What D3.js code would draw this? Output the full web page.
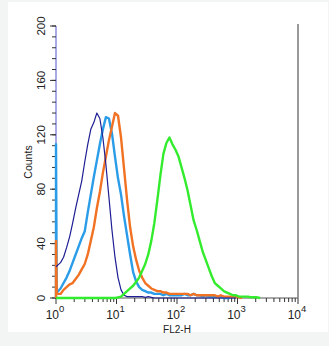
<!DOCTYPE html>
<html>
<head>
<meta charset="utf-8">
<script src="https://cdn.jsdelivr.net/npm/d3@7"></script>
<style>
  html, body { margin: 0; padding: 0; background: #f3f4f4; }
  svg { display: block; }
</style>
</head>
<body>
<svg id="chart" width="329" height="346"></svg>
<script>
// FL2-H histograms, counts per channel (channel width = 0.05 decade)
const xTickValues = [1, 10, 100, 1000, 10000];
const xTickExponents = ["0", "1", "2", "3", "4"];
const yTickValues = [0, 40, 80, 120, 160, 200];
const seriesNames = ["isotype", "control", "blank", "stained"];
const seriesColors = ["#1e1e94", "#2b9de8", "#f27224", "#33ec2e"];
const seriesWidths = [1.2, 2.4, 2.4, 2.4];
// events piled up in the first channel (drawn as a spike on the axis)
const pileup = [null, 113, 42, 0];

const isotypeCounts = [23, 26, 30, 37, 45, 55, 66, 76, 86, 100,
  113, 124, 129, 136, 132, 118, 98, 74, 50, 30,
  15, 6, 2, 1, 1, 1, 1, 1, 1, 0.5,
  1, 0.5, 0, 0, 0, 0, 0, 0, 0, 0,
  0, 0, 0, 0, 0, 0, 0, 0, 0, 0,
  0, 0, 0, 0, 0, 0, 0, 0, 0, 0];
const controlCounts = [4, 7, 11, 15, 20, 26, 32, 38, 44, 49,
  63, 76, 89, 101, 113, 124, 133, 132, 121, 104,
  88, 76, 60, 46, 32, 19, 12, 8, 6, 5,
  4, 4, 3, 3, 3, 2, 3, 2, 2, 2,
  2, 2, 3, 2, 2, 3, 2, 2, 1, 2,
  1, 1, 1, 1, 1, 0, 0, 0];
const blankCounts = [3, 3, 6, 8, 10, 11, 14, 17, 21, 25,
  32, 42, 52, 66, 78, 92, 104, 116, 126, 136,
  134, 118, 95, 72, 52, 38, 28, 20, 15, 11,
  9, 7, 6, 5, 5, 4, 4, 3, 3, 3,
  3, 3, 3, 3, 2, 3, 2, 2, 2, 2,
  2, 2, 2, 1, 2, 1, 1, 1, 1, 1,
  0.5, 0];
const stainedCounts = [0, 0, 0, 0, 0, 0, 0, 0, 0, 0,
  0, 0, 0, 0, 0, 0, 0, 0, 0, 0,
  0.5, 1, 3, 5, 7, 9, 12, 15, 20, 25,
  32, 42, 55, 72, 90, 106, 114, 118, 113, 109,
  104, 96, 88, 79, 68, 57, 50, 42, 34, 28,
  22, 16, 11, 9, 7, 5, 4, 3, 2, 2,
  1, 1, 1, 1, 0.5, 0.5, 0.5, 0];
const allCounts = [isotypeCounts, controlCounts, blankCounts, stainedCounts];
const channelStep = 0.05;

const svg = d3.select("#chart");
const font = "Liberation Sans, Arial, sans-serif";

// white panel
svg.append("rect").attr("x", 8).attr("y", 2).attr("width", 320).attr("height", 330)
  .attr("fill", "#ffffff");

const x = d3.scaleLog().domain([1, 10000]).range([56, 298]);
const y = d3.scaleLinear().domain([0, 200]).range([298, 26]);

// bottom axis: baseline, major and minor ticks
const gx = svg.append("g");
gx.append("line").attr("x1", x(1)).attr("x2", x(10000))
  .attr("y1", y(0)).attr("y2", y(0)).attr("stroke", "#555").attr("stroke-width", 1.2);
const minorX = [];
for (let d = 1; d < 10000; d *= 10) for (let m = 2; m <= 9; m++) minorX.push(d * m);
gx.selectAll("line.minor").data(minorX).join("line").attr("class", "minor")
  .attr("x1", d => x(d)).attr("x2", d => x(d))
  .attr("y1", y(0)).attr("y2", y(0) + 4)
  .attr("stroke", "#333").attr("stroke-width", 1);
gx.selectAll("line.major").data(xTickValues).join("line").attr("class", "major")
  .attr("x1", d => x(d)).attr("x2", d => x(d))
  .attr("y1", y(0)).attr("y2", y(0) + 6)
  .attr("stroke", "#333").attr("stroke-width", 1);
const xl = gx.selectAll("text.tl").data(xTickValues).join("text").attr("class", "tl")
  .attr("x", d => x(d) - 1).attr("y", 319)
  .attr("text-anchor", "middle")
  .attr("font-family", font)
  .attr("font-size", 12).attr("fill", "#222");
xl.append("tspan").text("10");
xl.append("tspan").attr("dy", -7).attr("font-size", 9.5)
  .text((d, i) => xTickExponents[i]);
svg.append("text").attr("x", x(100)).attr("y", 333)
  .attr("text-anchor", "middle")
  .attr("font-family", font)
  .attr("font-size", 10).attr("fill", "#222").text("FL2-H");

// left axis
const gy = svg.append("g");
gy.append("line").attr("x1", x(1)).attr("x2", x(1))
  .attr("y1", y(200)).attr("y2", y(0)).attr("stroke", "#8585dc").attr("stroke-width", 1.4);
gy.selectAll("line.minor").data(d3.range(0, 201, 8)).join("line").attr("class", "minor")
  .attr("x1", x(1) - 4).attr("x2", x(1))
  .attr("y1", d => y(d)).attr("y2", d => y(d))
  .attr("stroke", "#333").attr("stroke-width", 1);
gy.selectAll("line.major").data(yTickValues).join("line").attr("class", "major")
  .attr("x1", x(1) - 6).attr("x2", x(1))
  .attr("y1", d => y(d)).attr("y2", d => y(d))
  .attr("stroke", "#333").attr("stroke-width", 1);
gy.selectAll("text.tl").data(yTickValues).join("text").attr("class", "tl")
  .attr("transform", d => `translate(45,${y(d)}) rotate(-90)`)
  .attr("text-anchor", "middle")
  .attr("font-family", font)
  .attr("font-size", 11.5).attr("fill", "#222")
  .text(d => d);
svg.append("text").attr("transform", "translate(32,162) rotate(-90)")
  .attr("text-anchor", "middle")
  .attr("font-family", font)
  .attr("font-size", 10.5).attr("fill", "#222").text("Counts");

// right frame line
svg.append("line").attr("x1", x(10000)).attr("x2", x(10000))
  .attr("y1", y(200) - 2).attr("y2", y(0))
  .attr("stroke", "#808080").attr("stroke-width", 1.6);

// histogram traces through channel centres
const line = d3.line().x(d => x(d[0])).y(d => y(d[1]));
const drawOrder = [1, 2, 0, 3];
drawOrder.forEach(s => {
  const counts = allCounts[s];
  const pts = [];
  if (pileup[s] !== null) {
    pts.push([1, 0]);
    pts.push([1, pileup[s]]);
    pts.push([Math.pow(10, 0.012), counts[0]]);
  } else {
    pts.push([1, counts[0]]);
  }
  counts.forEach((c, i) => {
    if (i === 0) return;
    pts.push([Math.pow(10, (i + 0.5) * channelStep), c]);
  });
  svg.append("path").datum(pts)
    .attr("class", seriesNames[s])
    .attr("d", line)
    .attr("fill", "none")
    .attr("stroke", seriesColors[s])
    .attr("stroke-width", seriesWidths[s])
    .attr("stroke-linejoin", "round");
});
</script>
</body>
</html>
